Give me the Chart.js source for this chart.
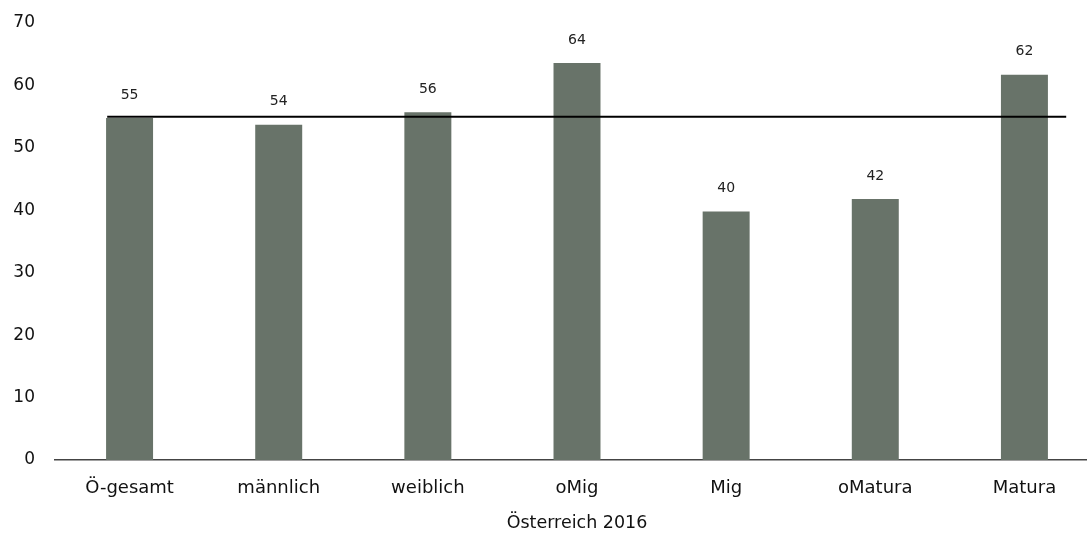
<!DOCTYPE html>
<html>
<head>
<meta charset="utf-8">
<script src="https://cdn.jsdelivr.net/npm/chart.js@4/dist/chart.umd.min.js"></script>
<style>
    html, body { margin: 0; padding: 0; background: #fff; overflow: hidden; }
    /* the plot runs a little past the right edge of the window, as in the original */
    #wrap { width: 1099px; height: 534px; }
</style>
</head>
<body>
<div id="wrap"><canvas id="barChart"></canvas></div>
<script>
// data
const categories = ['Ö-gesamt', 'männlich', 'weiblich', 'oMig', 'Mig', 'oMatura', 'Matura'];
const values = [54.8, 53.7, 55.7, 63.6, 39.8, 41.8, 61.7];
const valueLabels = ['55', '54', '56', '64', '40', '42', '62'];
const averageValue = 55;
const averageSpan = [-0.15, 6.28]; // category index range covered by the reference line
const axisTitle = 'Österreich 2016';

const fontFamily = '"DejaVu Sans", Verdana, sans-serif';

// draws the numbers above the bars
const valueLabelPlugin = {
    id: 'valueLabels',
    afterDatasetsDraw(chart) {
        const ctx = chart.ctx;
        const meta = chart.getDatasetMeta(0);
        ctx.save();
        ctx.font = '14px ' + fontFamily;
        ctx.fillStyle = '#222';
        ctx.textAlign = 'center';
        ctx.textBaseline = 'middle';
        meta.data.forEach((bar, i) => {
            ctx.fillText(valueLabels[i], bar.x, bar.y - 23);
        });
        ctx.restore();
    }
};

new Chart(document.getElementById('barChart'), {
    type: 'bar',
    data: {
        labels: categories,
        datasets: [{
            data: values,
            backgroundColor: '#687369',
            borderWidth: 0,
            grouped: false,
            categoryPercentage: 1,
            barPercentage: 0.315,
            order: 2
        }, {
            type: 'line',
            xAxisID: 'x2',
            data: averageSpan.map(x => ({x: x, y: averageValue})),
            borderColor: '#000',
            borderWidth: 2,
            pointRadius: 0,
            fill: false,
            order: 1
        }]
    },
    options: {
        responsive: true,
        maintainAspectRatio: false,
        animation: false,
        layout: {
            padding: { top: 23, left: 13, right: 0, bottom: 0 }
        },
        plugins: {
            legend: { display: false },
            tooltip: { enabled: false }
        },
        scales: {
            x: {
                grid: { display: false, drawTicks: false },
                border: { display: true, color: '#444', width: 1.5 },
                ticks: {
                    padding: 18,
                    color: '#111',
                    font: { family: fontFamily, size: 18 }
                },
                title: {
                    display: true,
                    text: axisTitle,
                    color: '#111',
                    padding: { top: 0, bottom: 0 },
                    font: { family: fontFamily, size: 17.5 }
                },
                afterFit(scale) {
                    scale.height = 74;
                    scale.paddingLeft = 0;
                    scale.paddingRight = 0;
                }
            },
            x2: {
                type: 'linear',
                display: false,
                offset: false,
                min: -0.5,
                max: categories.length - 0.5
            },
            y: {
                min: 0,
                max: 70,
                grid: { display: false, drawTicks: false },
                border: { display: false },
                ticks: {
                    stepSize: 10,
                    padding: 20,
                    color: '#111',
                    font: { family: fontFamily, size: 17 }
                },
                afterFit(scale) {
                    scale.width = 42;
                    scale.paddingTop = 0;
                    scale.paddingBottom = 0;
                }
            }
        }
    },
    plugins: [valueLabelPlugin]
});
</script>
</body>
</html>
